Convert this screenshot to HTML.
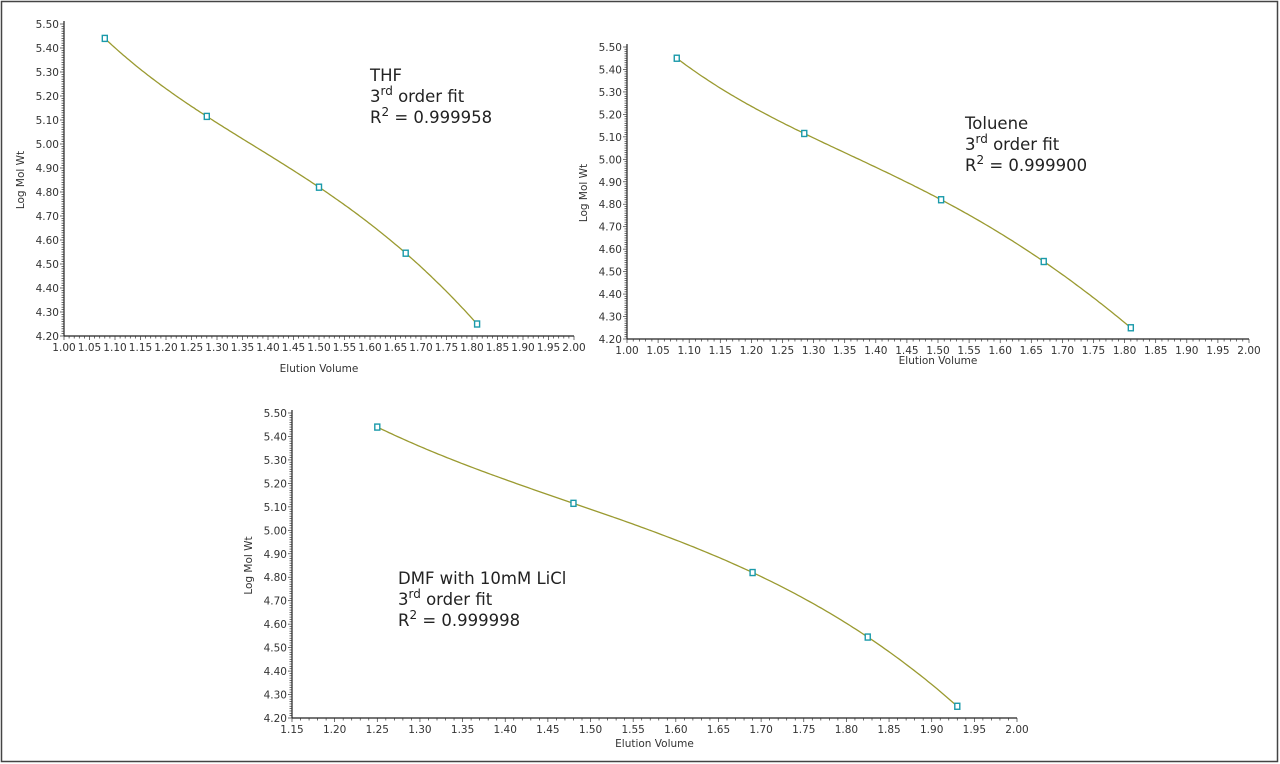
<!DOCTYPE html>
<html><head><meta charset="utf-8"><style>
html,body{margin:0;padding:0;background:#fff;}
svg{display:block;font-family:"DejaVu Sans","Liberation Sans",sans-serif;}
</style></head><body>
<svg id="s" width="1280" height="764" xmlns="http://www.w3.org/2000/svg">
<rect x="1.5" y="1.5" width="1276" height="760" fill="none" stroke="#444" stroke-width="1.5"/>
<g font-family="DejaVu Sans, Liberation Sans, sans-serif" font-size="16.5" fill="#222">
<text x="370" y="81">THF</text>
<text x="370" y="102">3<tspan font-size="12" dy="-7">rd</tspan><tspan dy="7"> order fit</tspan></text>
<text x="370" y="123">R<tspan font-size="12" dy="-7">2</tspan><tspan dy="7"> = 0.999958</tspan></text>
<text x="965" y="129">Toluene</text>
<text x="965" y="150">3<tspan font-size="12" dy="-7">rd</tspan><tspan dy="7"> order fit</tspan></text>
<text x="965" y="171">R<tspan font-size="12" dy="-7">2</tspan><tspan dy="7"> = 0.999900</tspan></text>
<text x="398" y="584">DMF with 10mM LiCl</text>
<text x="398" y="605">3<tspan font-size="12" dy="-7">rd</tspan><tspan dy="7"> order fit</tspan></text>
<text x="398" y="626">R<tspan font-size="12" dy="-7">2</tspan><tspan dy="7"> = 0.999998</tspan></text>
</g>
</svg>
<script>
const S=document.getElementById('s');const NS='http://www.w3.org/2000/svg';
function el(t,a,txt){const e=document.createElementNS(NS,t);for(const k in a)e.setAttribute(k,a[k]);if(txt!==undefined)e.textContent=txt;S.appendChild(e);return e;}
function chart(c){
 const X=v=>c.x0+(v-c.xa)/(c.xb-c.xa)*(c.x1-c.x0);
 const Y=v=>c.y1+(v-4.2)/(1.3)*(c.y0-c.y1);
 el('line',{x1:c.x0,y1:c.y0-3,x2:c.x0,y2:c.y1,stroke:'#222','stroke-width':1.2});
 el('line',{x1:c.x0,y1:c.y1,x2:c.x1,y2:c.y1,stroke:'#222','stroke-width':1.2});
 for(let i=0;i<=130;i++){const y=Y(4.2+i*0.01);const maj=i%10==0;
  el('line',{x1:c.x0-(maj?4:2.5),y1:y,x2:c.x0,y2:y,stroke:'#333','stroke-width':0.7});
  if(maj)el('text',{x:c.x0-5,y:y+4,'font-size':10.5,'text-anchor':'end',fill:'#333'},(4.2+i*0.01).toFixed(2));}
 const n=Math.round((c.xb-c.xa)/0.01);
 for(let i=0;i<=n;i++){const v=c.xa+i*0.01;const x=X(v);const maj=i%5==0;
  el('line',{x1:x,y1:c.y1,x2:x,y2:c.y1+(maj?4:2.5),stroke:'#333','stroke-width':0.7});
  if(maj)el('text',{x:x,y:c.y1+15,'font-size':10.5,'text-anchor':'middle',fill:'#333'},v.toFixed(2));}
 el('text',{x:(c.x0+c.x1)/2,y:c.xl,'font-size':10.5,'text-anchor':'middle',fill:'#333'},'Elution Volume');
 el('text',{x:0,y:0,'font-size':10.5,'text-anchor':'middle',fill:'#333',transform:`translate(${c.x0-40},${(c.y0+c.y1)/2}) rotate(-90)`},'Log Mol Wt');
 const p=c.p;let d='';
 for(let k=0;k<=200;k++){const v=p[0][0]+(p[4][0]-p[0][0])*k/200;let s=0;
  for(let i=0;i<5;i++){let l=p[i][1];for(let j=0;j<5;j++)if(j!=i)l*=(v-p[j][0])/(p[i][0]-p[j][0]);s+=l;}
  d+=(k?'L':'M')+X(v).toFixed(1)+' '+Y(s).toFixed(1);}
 el('path',{d:d,fill:'none',stroke:'#9a9a30','stroke-width':1.3});
 for(const q of p)el('rect',{x:X(q[0])-2.5,y:Y(q[1])-3,width:5,height:6,fill:'#fff',stroke:'#1a9aaa','stroke-width':1.4});
}
chart({x0:64,x1:574,y0:24,y1:336,xa:1,xb:2,xl:372,p:[[1.08,5.44],[1.28,5.115],[1.50,4.82],[1.67,4.545],[1.81,4.25]]});
chart({x0:627,x1:1249,y0:47,y1:339,xa:1,xb:2,xl:364,p:[[1.08,5.45],[1.285,5.115],[1.505,4.82],[1.67,4.545],[1.81,4.25]]});
chart({x0:292,x1:1017,y0:413,y1:718,xa:1.15,xb:2,xl:747,p:[[1.25,5.44],[1.48,5.115],[1.69,4.82],[1.825,4.545],[1.93,4.25]]});
</script>
</body></html>
